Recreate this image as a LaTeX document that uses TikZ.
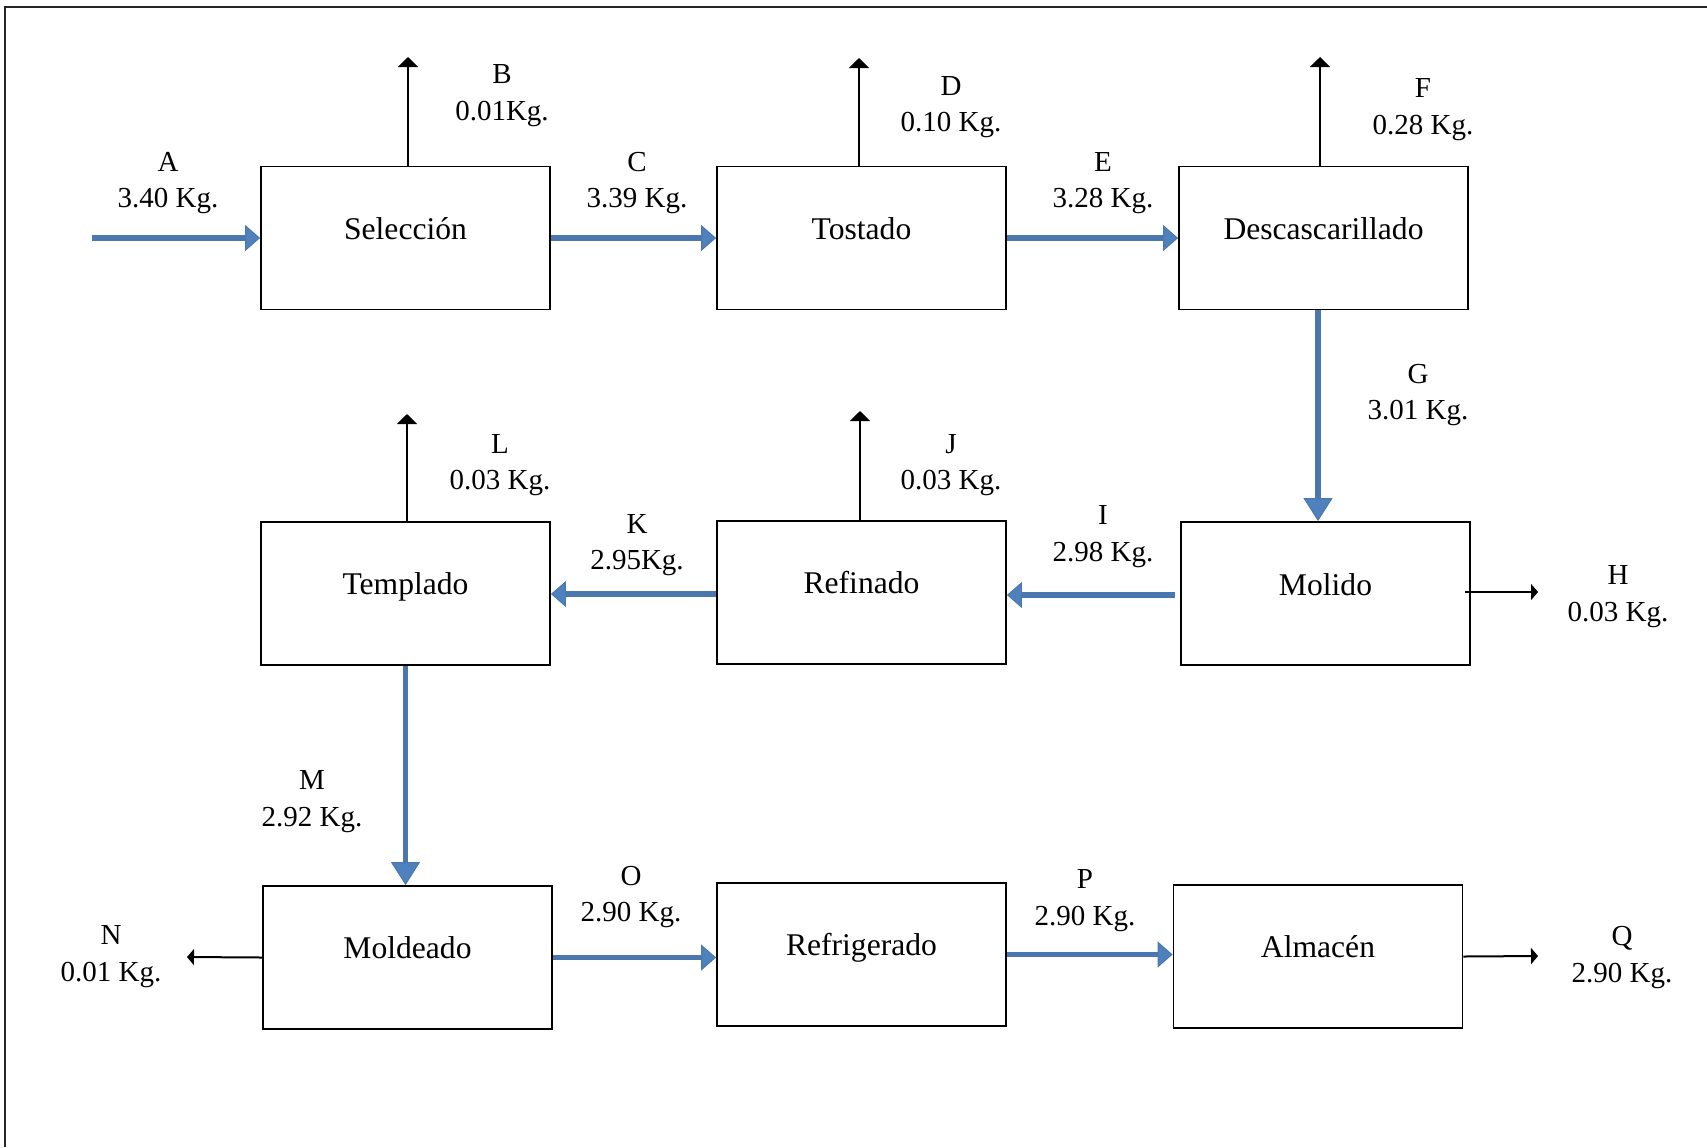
\documentclass[tikz,border=0pt]{standalone}
\usepackage{fontspec}
\setmainfont{Liberation Serif}
\usetikzlibrary{arrows.meta}
\definecolor{flowblue}{HTML}{4A78AE}
\definecolor{headblue}{HTML}{4F81BD}
\tikzset{
  procbox/.style={draw=black,line width=0.9pt,minimum width=144.5pt,minimum height=71.5pt,inner sep=0pt},
  boxtxt/.style={anchor=base,inner sep=0pt,font=\fontsize{15.8}{19}\selectfont},
  lbl/.style={anchor=base,inner sep=0pt,font=\fontsize{14.5}{18}\selectfont},
  flow/.style={draw=flowblue,line width=2.6pt,-{Triangle[length=7.5pt,width=13pt,fill=headblue,line width=0.5pt]}},
  vflow/.style={draw=flowblue,line width=2.6pt,-{Triangle[length=11.5pt,width=14.5pt,fill=headblue,line width=0.5pt]}},
  waste/.style={draw=black,line width=1pt,-{Triangle[length=5pt,width=10pt]}},
  sideout/.style={draw=black,line width=1pt,-{Triangle[length=3.5pt,width=8pt]}}
}
\begin{document}
\begin{tikzpicture}[x=0.5pt,y=-0.5pt]
\useasboundingbox (0,0) rectangle (1707,1147);
% frame (cropped)
\draw[line width=1.2pt,black!85] (5,1147) -- (5,7) -- (1707,7);

% process boxes
\node[procbox] (sel)  at (405.5,238) {};
\node[procbox] (tos)  at (861.5,238) {};
\node[procbox] (des)  at (1323.5,238) {};
\node[procbox] (tem)  at (405.5,593.5) {};
\node[procbox] (ref)  at (861.5,592.5) {};
\node[procbox] (mol)  at (1325.5,593.5) {};
\node[procbox] (mold) at (407.5,957.5) {};
\node[procbox] (refr) at (861.5,954.5) {};
\node[procbox] (alm)  at (1318,956.5) {};

\node[boxtxt] (selT)  at ([yshift=-0.5pt]sel.center)  {Selección};
\node[boxtxt] (tosT)  at ([yshift=-0.5pt]tos.center)  {Tostado};
\node[boxtxt] (desT)  at ([yshift=-0.5pt]des.center)  {Descascarillado};
\node[boxtxt] (temT)  at ([yshift=-0.5pt]tem.center)  {Templado};
\node[boxtxt] (refT)  at ([yshift=-0.5pt]ref.center)  {Refinado};
\node[boxtxt] (molT)  at ([yshift=-1pt]mol.center)  {Molido};
\node[boxtxt] (moldT) at ([yshift=-0.5pt]mold.center) {Moldeado};
\node[boxtxt] (refrT) at ([yshift=-0.5pt]refr.center) {Refrigerado};
\node[boxtxt] (almT)  at ([yshift=-0.5pt]alm.center)  {Almacén};

% free ends
\coordinate (aStart) at (92,238);
\coordinate (bEnd) at (408,57);
\coordinate (dEnd) at (859,58);
\coordinate (fEnd) at (1320,57);
\coordinate (jEnd) at (860,411);
\coordinate (lEnd) at (407,414);
\coordinate (hEnd) at (1538,592);
\coordinate (nEnd) at (187,957);
\coordinate (qEnd) at (1538,956);

% main flow (blue)
\draw[flow] (aStart) -- (sel.west);
\draw[flow] (sel.east) -- (tos.west);
\draw[flow] (tos.east) -- (des.west);
\draw[vflow] ([xshift=-2.75pt]des.south) -- ([xshift=-2.75pt]des.south |- mol.north);
\draw[flow,shorten <=2.5pt] ([yshift=-0.75pt]mol.west) -- ([yshift=-0.75pt]mol.west -| ref.east);
\draw[flow] ([yshift=-0.75pt]ref.west) -- ([yshift=-0.75pt]ref.west -| tem.east);
\draw[vflow] (tem.south) -- (tem.south |- mold.north);
\draw[flow] (mold.east) -- (mold.east -| refr.west);
\draw[flow] (refr.east) -- (refr.east -| alm.west);

% losses (black)
\draw[waste] (sel.north -| bEnd) -- (bEnd);
\draw[waste] (tos.north -| dEnd) -- (dEnd);
\draw[waste] (des.north -| fEnd) -- (fEnd);
\draw[waste] (ref.north -| jEnd) -- (jEnd);
\draw[waste] (tem.north -| lEnd) -- (lEnd);
\draw[sideout] ([xshift=-3pt]mol.east |- hEnd) -- (hEnd);
\draw[sideout] (mold.west) -- (nEnd);
\draw[sideout] (alm.east) -- (qEnd);

% labels
\node[lbl] (aL) at (168,171.5) {A};   \node[lbl] (aV) at (168,207.5) {3.40 Kg.};
\node[lbl] (bL) at (502,83.5) {B};    \node[lbl] (bV) at (502,120.5) {0.01Kg.};
\node[lbl] (cL) at (637,171.5) {C};   \node[lbl] (cV) at (637,207.5) {3.39 Kg.};
\node[lbl] (dL) at (951,95.5) {D};    \node[lbl] (dV) at (951,131.5) {0.10 Kg.};
\node[lbl] (eL) at (1103,171.5) {E};  \node[lbl] (eV) at (1103,207.5) {3.28 Kg.};
\node[lbl] (fL) at (1423,97.5) {F};   \node[lbl] (fV) at (1423,134.5) {0.28 Kg.};
\node[lbl] (gL) at (1418,383.5) {G};  \node[lbl] (gV) at (1418,419.5) {3.01 Kg.};
\node[lbl] (lL) at (500,453.5) {L};   \node[lbl] (lV) at (500,489.5) {0.03 Kg.};
\node[lbl] (jL) at (951,453.5) {J};   \node[lbl] (jV) at (951,489.5) {0.03 Kg.};
\node[lbl] (kL) at (637,533.5) {K};   \node[lbl] (kV) at (637,569.5) {2.95Kg.};
\node[lbl] (iL) at (1103,524.5) {I};  \node[lbl] (iV) at (1103,561.5) {2.98 Kg.};
\node[lbl] (hL) at (1618,584.5) {H};  \node[lbl] (hV) at (1618,621.5) {0.03 Kg.};
\node[lbl] (mL) at (312,789.5) {M};   \node[lbl] (mV) at (312,826.5) {2.92 Kg.};
\node[lbl] (oL) at (631,885.5) {O};   \node[lbl] (oV) at (631,921.5) {2.90 Kg.};
\node[lbl] (pL) at (1085,888.5) {P};  \node[lbl] (pV) at (1085,925.5) {2.90 Kg.};
\node[lbl] (nL) at (111,944.5) {N};   \node[lbl] (nV) at (111,981.5) {0.01 Kg.};
\node[lbl] (qL) at (1622,945.5) {Q};  \node[lbl] (qV) at (1622,982.5) {2.90 Kg.};
\end{tikzpicture}
\end{document}
